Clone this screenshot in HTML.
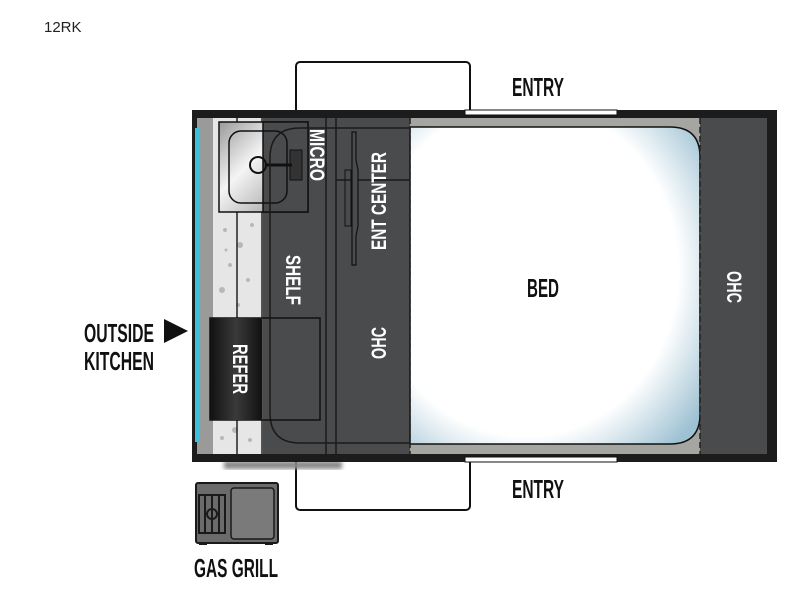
<!DOCTYPE html>
<html><head><meta charset="utf-8"><style>
html,body{margin:0;padding:0;background:#fff;width:800px;height:600px;overflow:hidden}
svg{display:block}
.t{font-family:"Liberation Sans Narrow","Liberation Sans",sans-serif;font-weight:bold}
</style></head><body>
<svg width="800" height="600" viewBox="0 0 800 600" xmlns="http://www.w3.org/2000/svg">
<defs>
<radialGradient id="bed" cx="0.4" cy="0.45" r="0.75">
<stop offset="0.7" stop-color="#ffffff"/><stop offset="1" stop-color="#9fc2d3"/>
</radialGradient>
<linearGradient id="sink" x1="0" y1="0" x2="1" y2="1">
<stop offset="0" stop-color="#9a9a9a"/><stop offset="0.4" stop-color="#f4f4f4"/><stop offset="1" stop-color="#8a8a8a"/>
</linearGradient>
<linearGradient id="ref" x1="0" y1="0" x2="1" y2="0">
<stop offset="0" stop-color="#111"/><stop offset="0.5" stop-color="#3a3a3a"/><stop offset="1" stop-color="#111"/>
</linearGradient>
<filter id="blur"><feGaussianBlur stdDeviation="2"/></filter>
</defs>
<text x="44" y="32" font-family="Liberation Sans,sans-serif" font-size="15" fill="#222">12RK</text>

<rect x="296" y="62" width="174" height="60" rx="4" fill="#fff" stroke="#111" stroke-width="2"/>
<rect x="296" y="450" width="174" height="60" rx="4" fill="#fff" stroke="#111" stroke-width="2"/>
<rect x="224" y="461" width="118" height="8" fill="#888" filter="url(#blur)"/>

<rect x="192" y="110" width="585" height="352" fill="#1c1c1c"/>
<rect x="197" y="118" width="570" height="336" fill="#4a4b4d"/>
<rect x="197" y="118" width="16" height="336" fill="#9a9a98"/>
<rect x="195" y="128" width="4" height="314" fill="#3cc0e0"/>
<rect x="213" y="118" width="50" height="336" fill="#e6e6e6"/>
<g fill="#b8b8b8">
<circle cx="225" cy="230" r="2"/><circle cx="240" cy="245" r="3"/><circle cx="230" cy="265" r="2"/><circle cx="248" cy="280" r="2"/><circle cx="222" cy="290" r="3"/><circle cx="238" cy="305" r="2"/><circle cx="226" cy="250" r="1.5"/><circle cx="252" cy="225" r="2"/><circle cx="235" cy="430" r="3"/><circle cx="250" cy="440" r="2"/><circle cx="222" cy="438" r="2"/>
</g>
<line x1="237" y1="118" x2="237" y2="454" stroke="#222" stroke-width="1.5"/>
<line x1="262" y1="118" x2="262" y2="454" stroke="#222" stroke-width="1.5"/>
<rect x="219" y="122" width="89" height="90" fill="url(#sink)" stroke="#111" stroke-width="1.5"/>
<rect x="263" y="122" width="45" height="90" fill="#4a4b4d" stroke="#111" stroke-width="1.5"/>
<rect x="229" y="131" width="58" height="72" rx="12" fill="none" stroke="#111" stroke-width="1.5"/>
<circle cx="258" cy="165" r="8" fill="none" stroke="#111" stroke-width="2"/>
<rect x="290" y="150" width="12" height="30" fill="#333" stroke="#111"/>
<line x1="266" y1="165" x2="292" y2="165" stroke="#111" stroke-width="3"/>
<path d="M410 128 H300 Q270 128 270 158 V413 Q270 443 300 443 H410" fill="none" stroke="#1a1a1a" stroke-width="1.5"/>
<line x1="326" y1="118" x2="326" y2="454" stroke="#1a1a1a" stroke-width="1.5"/>
<line x1="336" y1="118" x2="336" y2="454" stroke="#1a1a1a" stroke-width="1.5"/>
<line x1="336" y1="180" x2="410" y2="180" stroke="#1a1a1a" stroke-width="1.5"/>
<path d="M352 132 H356 V160 L358 170 V226 L356 236 V265 H352 Z" fill="#4a4b4d" stroke="#111" stroke-width="1.2"/>
<rect x="345" y="170" width="6" height="56" fill="none" stroke="#111"/>
<rect x="210" y="318" width="110" height="102" fill="none" stroke="#111" stroke-width="1.5"/>
<rect x="210" y="318" width="52" height="102" rx="3" fill="url(#ref)"/>
<rect x="410" y="118" width="290" height="336" fill="#a5a5a2"/>
<path d="M410 127 H670 Q700 127 700 157 V414 Q700 444 670 444 H410 Z" fill="url(#bed)" stroke="#111" stroke-width="1.5"/>
<line x1="410" y1="118" x2="410" y2="454" stroke="#222" stroke-width="1.5" stroke-dasharray="6 3"/>
<rect x="700" y="118" width="67" height="336" fill="#4a4b4d"/>
<line x1="700" y1="118" x2="700" y2="454" stroke="#222" stroke-width="1.5" stroke-dasharray="6 3"/>
<rect x="465" y="110" width="152" height="5" fill="#fff" stroke="#111" stroke-width="1"/>
<rect x="465" y="457" width="152" height="5" fill="#fff" stroke="#111" stroke-width="1"/>

<g class="t" font-size="26" fill="#111">
<text x="538" y="96" text-anchor="middle" textLength="52" lengthAdjust="spacingAndGlyphs">ENTRY</text>
<text x="538" y="498" text-anchor="middle" textLength="52" lengthAdjust="spacingAndGlyphs">ENTRY</text>
<text x="543" y="297" text-anchor="middle" textLength="32" lengthAdjust="spacingAndGlyphs">BED</text>
<text x="119" y="342" text-anchor="middle" textLength="70" lengthAdjust="spacingAndGlyphs">OUTSIDE</text>
<text x="119" y="370" text-anchor="middle" textLength="70" lengthAdjust="spacingAndGlyphs">KITCHEN</text>
<text x="236" y="577" text-anchor="middle" textLength="84" lengthAdjust="spacingAndGlyphs">GAS GRILL</text>
</g>
<g class="t" font-size="21" fill="#fff">
<text transform="translate(310,155) rotate(90)" text-anchor="middle" textLength="52" lengthAdjust="spacingAndGlyphs">MICRO</text>
<text transform="translate(386,201) rotate(-90)" text-anchor="middle" textLength="98" lengthAdjust="spacingAndGlyphs">ENT CENTER</text>
<text transform="translate(286,280) rotate(90)" text-anchor="middle" textLength="50" lengthAdjust="spacingAndGlyphs">SHELF</text>
<text transform="translate(233,369) rotate(90)" text-anchor="middle" textLength="50" lengthAdjust="spacingAndGlyphs">REFER</text>
<text transform="translate(386,343) rotate(-90)" text-anchor="middle" textLength="32" lengthAdjust="spacingAndGlyphs">OHC</text>
<text transform="translate(727,287) rotate(90)" text-anchor="middle" textLength="32" lengthAdjust="spacingAndGlyphs">OHC</text>
</g>
<polygon points="164,319 188,331 164,343" fill="#111"/>

<rect x="196" y="483" width="82" height="60" rx="2" fill="#6b6b6b" stroke="#1a1a1a" stroke-width="2"/>
<rect x="231" y="488" width="43" height="51" rx="3" fill="#7a7a7a" stroke="#1a1a1a" stroke-width="1.5"/>
<g stroke="#1a1a1a" stroke-width="2" fill="none">
<rect x="199" y="495" width="26" height="38"/>
<line x1="205" y1="495" x2="205" y2="533"/><line x1="212" y1="495" x2="212" y2="533"/><line x1="219" y1="495" x2="219" y2="533"/>
<circle cx="212" cy="514" r="5"/>
</g>
<rect x="199" y="542" width="8" height="3" fill="#1a1a1a"/><rect x="265" y="542" width="8" height="3" fill="#1a1a1a"/>
</svg>
</body></html>
